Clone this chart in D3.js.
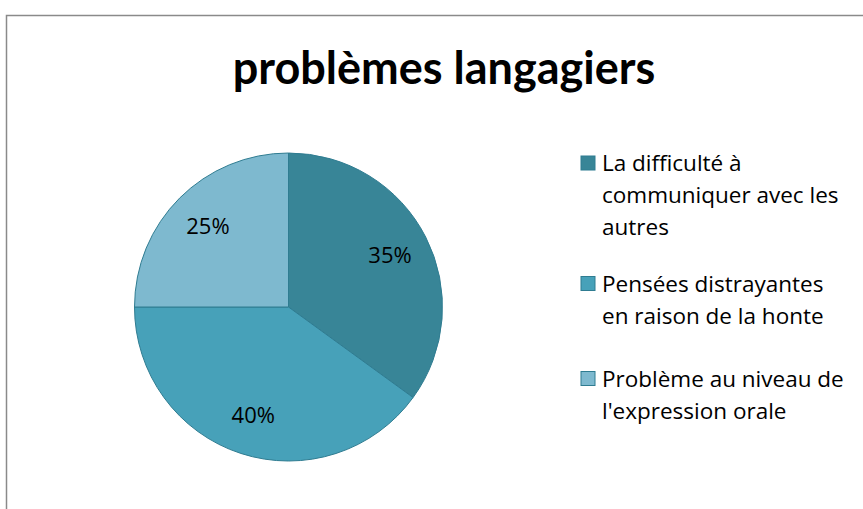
<!DOCTYPE html>
<html>
<head>
<meta charset="utf-8">
<script src="https://d3js.org/d3.v7.min.js"></script>
<style>
body { margin: 0; background: #fff; font-family: 'Open Sans', Lato, sans-serif; }
svg { display: block; }
</style>
</head>
<body>
<svg width="863" height="509"></svg>
<script>
var categories = ["La difficulté à communiquer avec les autres",
                  "Pensées distrayantes en raison de la honte",
                  "Problème au niveau de l'expression orale"];
var legendLines = [["La difficulté à", "communiquer avec les", "autres"],
                   ["Pensées distrayantes", "en raison de la honte"],
                   ["Problème au niveau de", "l'expression orale"]];
var values = [35, 40, 25];
var colors = ["#388597", "#47a1b9", "#7eb9cf"];

var svg = d3.select("svg");

// chart border
svg.append("rect")
  .attr("x", 6.5).attr("y", 15.5)
  .attr("width", 900).attr("height", 600)
  .attr("fill", "#fff")
  .attr("stroke", "#8a8a8a")
  .attr("stroke-width", 1.5);

// title
svg.append("text")
  .attr("x", 444).attr("y", 84)
  .attr("text-anchor", "middle")
  .attr("font-family", "Lato, sans-serif")
  .attr("font-size", "45px")
  .attr("font-weight", "bold")
  .text("problèmes langagiers");

var cx = 288.5, cy = 307, R = 154;
var pie = d3.pie().sort(null).value(function (d) { return d; });
var arc = d3.arc().innerRadius(0).outerRadius(R);
var labelArc = d3.arc().innerRadius(R * 0.74).outerRadius(R * 0.74);

var g = svg.append("g").attr("transform", "translate(" + cx + "," + cy + ")");
var arcs = pie(values);

g.selectAll("path")
  .data(arcs)
  .enter().append("path")
  .attr("d", arc)
  .attr("fill", function (d, i) { return colors[i]; })
  .attr("stroke", "#2f7c91")
  .attr("stroke-width", 1);

g.selectAll("text.lbl")
  .data(arcs)
  .enter().append("text")
  .attr("class", "lbl")
  .attr("transform", function (d) { return "translate(" + labelArc.centroid(d) + ")"; })
  .attr("text-anchor", "middle")
  .attr("dy", "0.35em")
  .attr("font-size", "22px")
  .text(function (d) { return d.data + "%"; });

// legend
var legendY = [171, 291.5, 386.5];
var lineH = 32;
var lg = svg.append("g");
categories.forEach(function (c, i) {
  lg.append("rect")
    .attr("x", 581).attr("y", legendY[i] - 15)
    .attr("width", 14).attr("height", 14)
    .attr("fill", colors[i])
    .attr("stroke", "#2f7c91")
    .attr("stroke-width", 1);
  var t = lg.append("text")
    .attr("x", 602).attr("y", legendY[i])
    .attr("font-size", "22.5px");
  legendLines[i].forEach(function (l, j) {
    t.append("tspan").attr("x", 602).attr("dy", j === 0 ? 0 : lineH).text(l);
  });
});
</script>
</body>
</html>
